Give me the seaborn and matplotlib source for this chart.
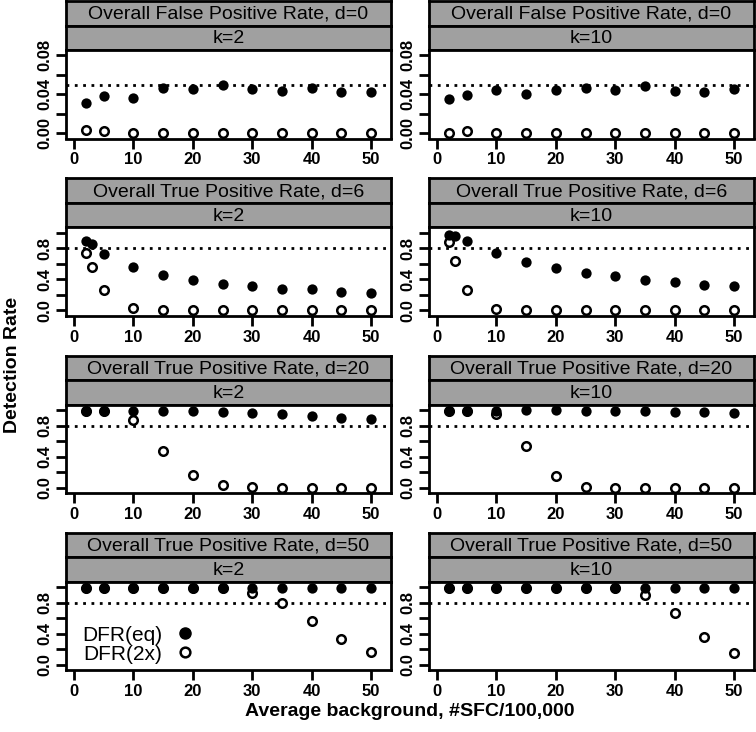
import numpy as np
import pandas as pd
import matplotlib
matplotlib.use("Agg")
import matplotlib.pyplot as plt
import seaborn as sns
from matplotlib.lines import Line2D

# --- data ---
bg = [2, 5, 10, 15, 20, 25, 30, 35, 40, 45, 50]
bg_d6 = [2, 3, 5, 10, 15, 20, 25, 30, 35, 40, 45, 50]

fpr_eq_k2 = [0.031, 0.0385, 0.0358, 0.0466, 0.0452, 0.0496, 0.0452, 0.0435, 0.0462, 0.0419, 0.0419]
fpr_2x_k2 = [0.003, 0.0024, 0.0003, 0.0, 0.0, 0.0, 0.0, 0.0, 0.0, 0.0, 0.0]
fpr_eq_k10 = [0.035, 0.0388, 0.0446, 0.0402, 0.0442, 0.0462, 0.0446, 0.048, 0.0429, 0.0425, 0.0456]
fpr_2x_k10 = [0.0, 0.0017, 0.0, 0.0, 0.0, 0.0, 0.0, 0.0, 0.0, 0.0, 0.0]

tpr6_eq_k2 = [0.894, 0.851, 0.732, 0.553, 0.455, 0.396, 0.336, 0.311, 0.277, 0.272, 0.243, 0.221]
tpr6_2x_k2 = [0.745, 0.553, 0.264, 0.026, 0.0, 0.0, 0.0, 0.0, 0.0, 0.0, 0.0, 0.0]
tpr6_eq_k10 = [0.974, 0.957, 0.894, 0.736, 0.626, 0.545, 0.481, 0.438, 0.396, 0.366, 0.328, 0.315]
tpr6_2x_k10 = [0.885, 0.63, 0.26, 0.017, 0.0, 0.0, 0.0, 0.0, 0.0, 0.0, 0.0, 0.0]

tpr20_eq_k2 = [0.991, 0.991, 0.991, 0.991, 0.983, 0.970, 0.957, 0.945, 0.919, 0.894, 0.885]
tpr20_2x_k2 = [0.99, 0.99, 0.877, 0.472, 0.157, 0.034, 0.004, 0.0, 0.0, 0.0, 0.0]
tpr20_eq_k10 = [0.991, 0.991, 0.991, 0.995, 0.995, 0.991, 0.991, 0.987, 0.978, 0.978, 0.966]
tpr20_2x_k10 = [0.99, 0.99, 0.945, 0.536, 0.149, 0.013, 0.0, 0.0, 0.0, 0.0, 0.0]

tpr50_eq_k2 = [0.996] * 11
tpr50_2x_k2 = [0.996, 0.996, 0.996, 0.996, 0.996, 0.996, 0.93, 0.80, 0.561, 0.331, 0.163]
tpr50_eq_k10 = [0.996] * 11
tpr50_2x_k10 = [0.996, 0.996, 0.996, 0.996, 0.996, 0.996, 0.996, 0.90, 0.67, 0.365, 0.15]

titles = ["Overall False Positive Rate, d=0", "Overall True Positive Rate, d=6",
          "Overall True Positive Rate, d=20", "Overall True Positive Rate, d=50"]
k_labels = ["k=2", "k=10"]
ref_lines = [0.05, 0.8, 0.8, 0.8]

panels = [
    [(bg, fpr_eq_k2, fpr_2x_k2), (bg, fpr_eq_k10, fpr_2x_k10)],
    [(bg_d6, tpr6_eq_k2, tpr6_2x_k2), (bg_d6, tpr6_eq_k10, tpr6_2x_k10)],
    [(bg, tpr20_eq_k2, tpr20_2x_k2), (bg, tpr20_eq_k10, tpr20_2x_k10)],
    [(bg, tpr50_eq_k2, tpr50_2x_k2), (bg, tpr50_eq_k10, tpr50_2x_k10)],
]

# --- style ---
sns.set_style("ticks")
plt.rcParams['font.family'] = ['Liberation Sans', 'DejaVu Sans']
plt.rcParams['axes.linewidth'] = 2
for key in ['text.color', 'xtick.color', 'ytick.color', 'axes.labelcolor', 'axes.edgecolor']:
    plt.rcParams[key] = 'black'

W, H = 756, 732
fig = plt.figure(figsize=(W / 100, H / 100), dpi=100)

col_left = [66, 429]
col_w = 325
period = 177.3
strip_h = 24.5
plot_h = 88.5


def fx(px):
    return px / W


def fy(py):
    return 1 - py / H


for r in range(4):
    top = 1 + period * r
    for c in range(2):
        x0 = col_left[c]
        # strips
        for s, txt in enumerate([titles[r], k_labels[c]]):
            st = top + s * strip_h
            sax = fig.add_axes([fx(x0), fy(st + strip_h), fx(col_w), strip_h / H])
            sax.set_facecolor('#a0a0a0')
            sax.set_xticks([])
            sax.set_yticks([])
            for sp in sax.spines.values():
                sp.set_linewidth(2)
                sp.set_color('black')
            sax.text(0.5, 0.45, txt, ha='center', va='center', fontsize=14, transform=sax.transAxes)

        pt = top + 2 * strip_h
        ax = fig.add_axes([fx(x0), fy(pt + plot_h), fx(col_w), plot_h / H])
        xs, eq, two = panels[r][c]
        df = pd.DataFrame({'bg': xs, 'eq': eq, 'two': two})
        ax.axhline(ref_lines[r], color='black', lw=2, ls=(0, (1, 2)), zorder=1)
        sns.scatterplot(data=df, x='bg', y='two', ax=ax, color='white', s=38,
                        edgecolor='black', linewidth=1.8, zorder=3)
        sns.scatterplot(data=df, x='bg', y='eq', ax=ax, color='black', s=55,
                        edgecolor='black', linewidth=0, zorder=4)
        ax.set_xlim(-1.36, 53.36)
        if r == 0:
            ax.set_ylim(-0.0056, 0.0856)
            ax.set_yticks([0, 0.02, 0.04, 0.06, 0.08])
            ax.set_yticklabels(['0.00', '', '0.04', '', '0.08'])
        else:
            ax.set_ylim(-0.07, 1.07)
            ax.set_yticks([0, 0.2, 0.4, 0.6, 0.8, 1.0])
            ax.set_yticklabels(['0.0', '', '0.4', '', '0.8', ''])
        ax.set_xticks([0, 10, 20, 30, 40, 50])
        ax.set_xticklabels(['0', '10', '20', '30', '40', '50'])
        ax.tick_params(axis='both', length=7, width=2, direction='out', labelsize=12, pad=3)
        for lab in ax.get_yticklabels():
            lab.set_rotation(90)
            lab.set_va('center')
            lab.set_fontweight('bold')
        for lab in ax.get_xticklabels():
            lab.set_fontweight('bold')
        ax.set_xlabel('')
        ax.set_ylabel('')
        for sp in ax.spines.values():
            sp.set_visible(True)
            sp.set_linewidth(2)

        if r == 3 and c == 0:
            handles = [Line2D([], [], ls='', marker='o', markersize=8, markerfacecolor='black',
                              markeredgecolor='black'),
                       Line2D([], [], ls='', marker='o', markersize=7, markerfacecolor='white',
                              markeredgecolor='black', markeredgewidth=1.8)]
            ax.legend(handles, ['DFR(eq)', 'DFR(2x)'], markerfirst=False, frameon=False,
                      loc='center left', bbox_to_anchor=(0.005, 0.29), fontsize=15,
                      labelspacing=0.0, handletextpad=0.6, borderpad=0.2, handlelength=1.0)

fig.text(fx(410), fy(711), 'Average background, #SFC/100,000', ha='center', va='center',
         fontsize=14, fontweight='bold')
fig.text(fx(13), fy(365), 'Detection Rate', ha='center', va='center', rotation=90,
         fontsize=14, fontweight='bold')

fig.savefig('out.png', dpi=100)
